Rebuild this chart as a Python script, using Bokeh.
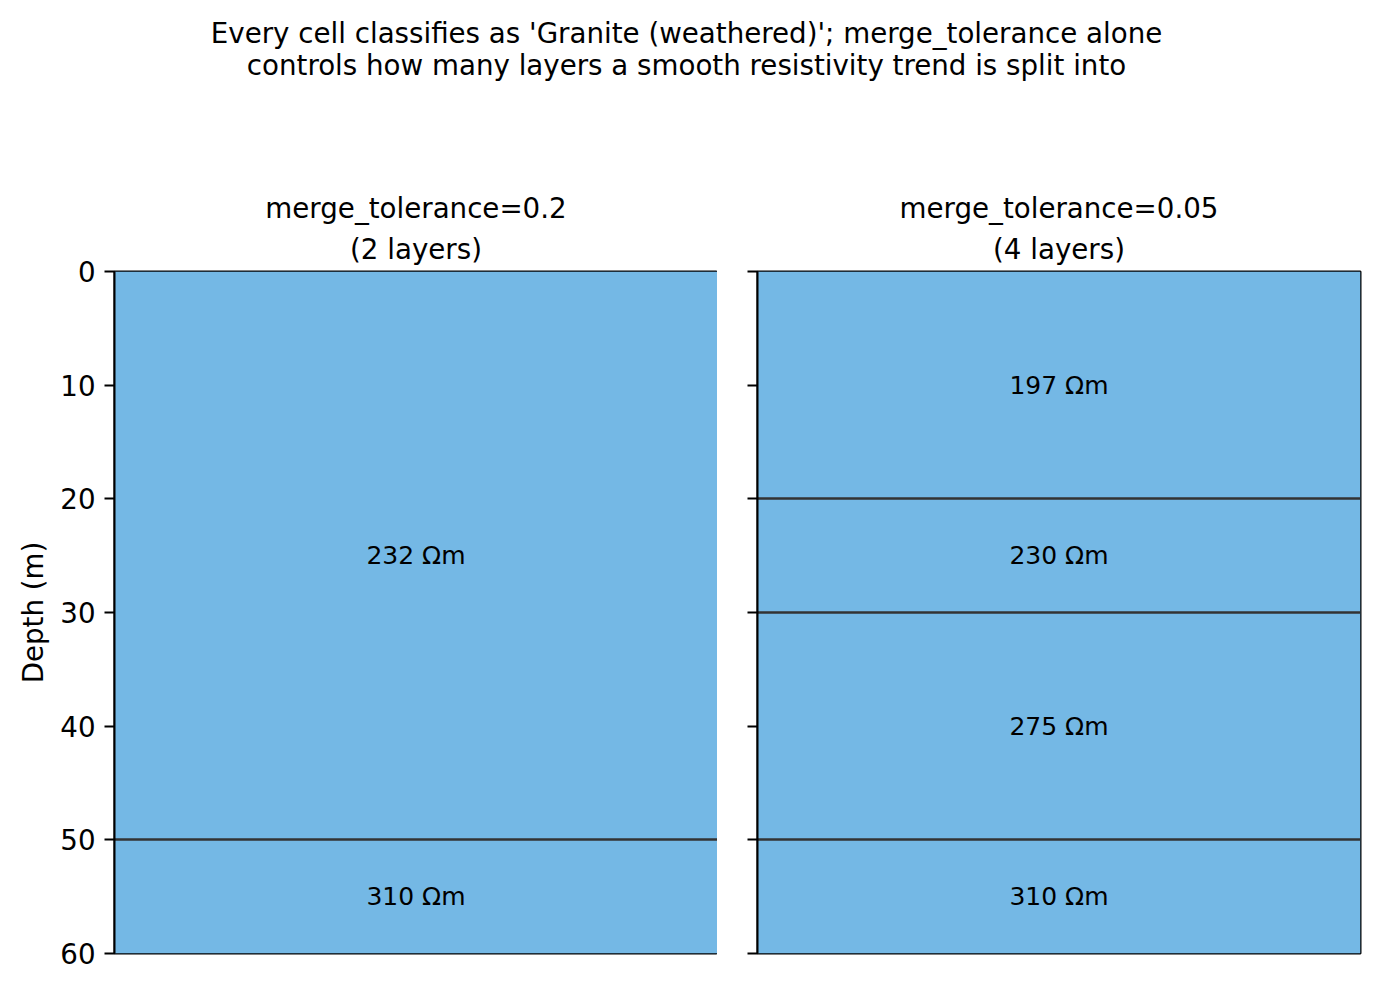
from bokeh.plotting import figure
from bokeh.layouts import column, row
from bokeh.models import Range1d, FixedTicker, Title, CustomJSTickFormatter
from bokeh.embed import file_html
from bokeh.resources import INLINE
from bokeh.core.properties import value

FONT = "DejaVu Sans"

suptitle_lines = [
    "Every cell classifies as 'Granite (weathered)'; merge_tolerance alone",
    "controls how many layers a smooth resistivity trend is split into",
]
panel_titles = [["merge_tolerance=0.2", "(2 layers)"], ["merge_tolerance=0.05", "(4 layers)"]]

left_tops = [0, 50]
left_bottoms = [50, 60]
left_rho = [232, 310]

right_tops = [0, 20, 30, 50]
right_bottoms = [20, 30, 50, 60]
right_rho = [197, 230, 275, 310]

depth_ticks = [0, 10, 20, 30, 40, 50, 60]
depth_max = 60

FILL = "#74b8e5"
H_T = 189
TITLE_STANDOFFS = [12, 0]   # bottom line, top line

# title figure
pt = figure(width=1372, height=H_T, x_range=Range1d(0, 1), y_range=Range1d(H_T, 0),
            x_axis_type=None, y_axis_type=None, toolbar_location=None,
            output_backend="svg", min_border=0, outline_line_color=None)
pt.grid.visible = False
pt.text(x=[0.5, 0.5], y=[33, 65], text=suptitle_lines, text_align="center",
        text_baseline="middle", text_font=value(FONT), text_font_size="27.7px",
        text_color="black")


def make_panel(tops, bottoms, rho, titles, left_labels, mb_left, mb_right):
    p = figure(frame_width=603, frame_height=682, x_range=Range1d(0, 1),
               y_range=Range1d(depth_max, 0), x_axis_type=None, title=None,
               toolbar_location=None, output_backend="svg",
               min_border_left=mb_left, min_border_right=mb_right,
               min_border_top=0, min_border_bottom=20)
    p.grid.visible = False
    p.outline_line_color = "black"
    p.outline_line_width = 2
    for t, so in zip(reversed(titles), TITLE_STANDOFFS):
        p.add_layout(Title(text=t, align="center", text_font=FONT,
                           text_font_size="27.7px", text_font_style="normal",
                           text_color="black", standoff=so, offset=0), "above")
    p.quad(left=0, right=1, top=tops, bottom=bottoms, fill_color=FILL, line_color=None)
    bounds = bottoms[:-1]
    if bounds:
        p.hspan(y=bounds, line_color="#333333", line_width=2.5)
    mids = [(t + b) / 2 for t, b in zip(tops, bottoms)]
    p.text(x=[0.5] * len(mids), y=mids, text=[f"{r} Ωm" for r in rho],
           text_align="center", text_baseline="middle", text_font=value(FONT),
           text_font_size="25px", text_color="black")
    ax = p.yaxis[0]
    ax.ticker = FixedTicker(ticks=depth_ticks)
    ax.axis_line_width = 2
    ax.axis_line_color = "black"
    ax.major_tick_line_width = 2
    ax.major_tick_line_color = "black"
    ax.major_tick_out = 10
    ax.major_tick_in = 0
    ax.minor_tick_line_color = None
    ax.major_label_standoff = 9
    ax.major_label_text_font = FONT
    ax.major_label_text_color = "black"
    ax.major_label_text_font_size = "27.7px"
    if left_labels:
        ax.axis_label = "Depth (m)"
        ax.axis_label_text_font = FONT
        ax.axis_label_text_font_size = "27.7px"
        ax.axis_label_text_font_style = "normal"
        ax.axis_label_text_color = "black"
        ax.axis_label_standoff = 7
    else:
        ax.formatter = CustomJSTickFormatter(code="return ''")
        ax.major_label_standoff = 0
    return p


p1 = make_panel(left_tops, left_bottoms, left_rho, panel_titles[0], True, 114, 0)
p2 = make_panel(right_tops, right_bottoms, right_rho, panel_titles[1], False, 40, 12)

layout = column(pt, row(p1, p2))
open("out.html", "w").write(file_html(layout, INLINE))
